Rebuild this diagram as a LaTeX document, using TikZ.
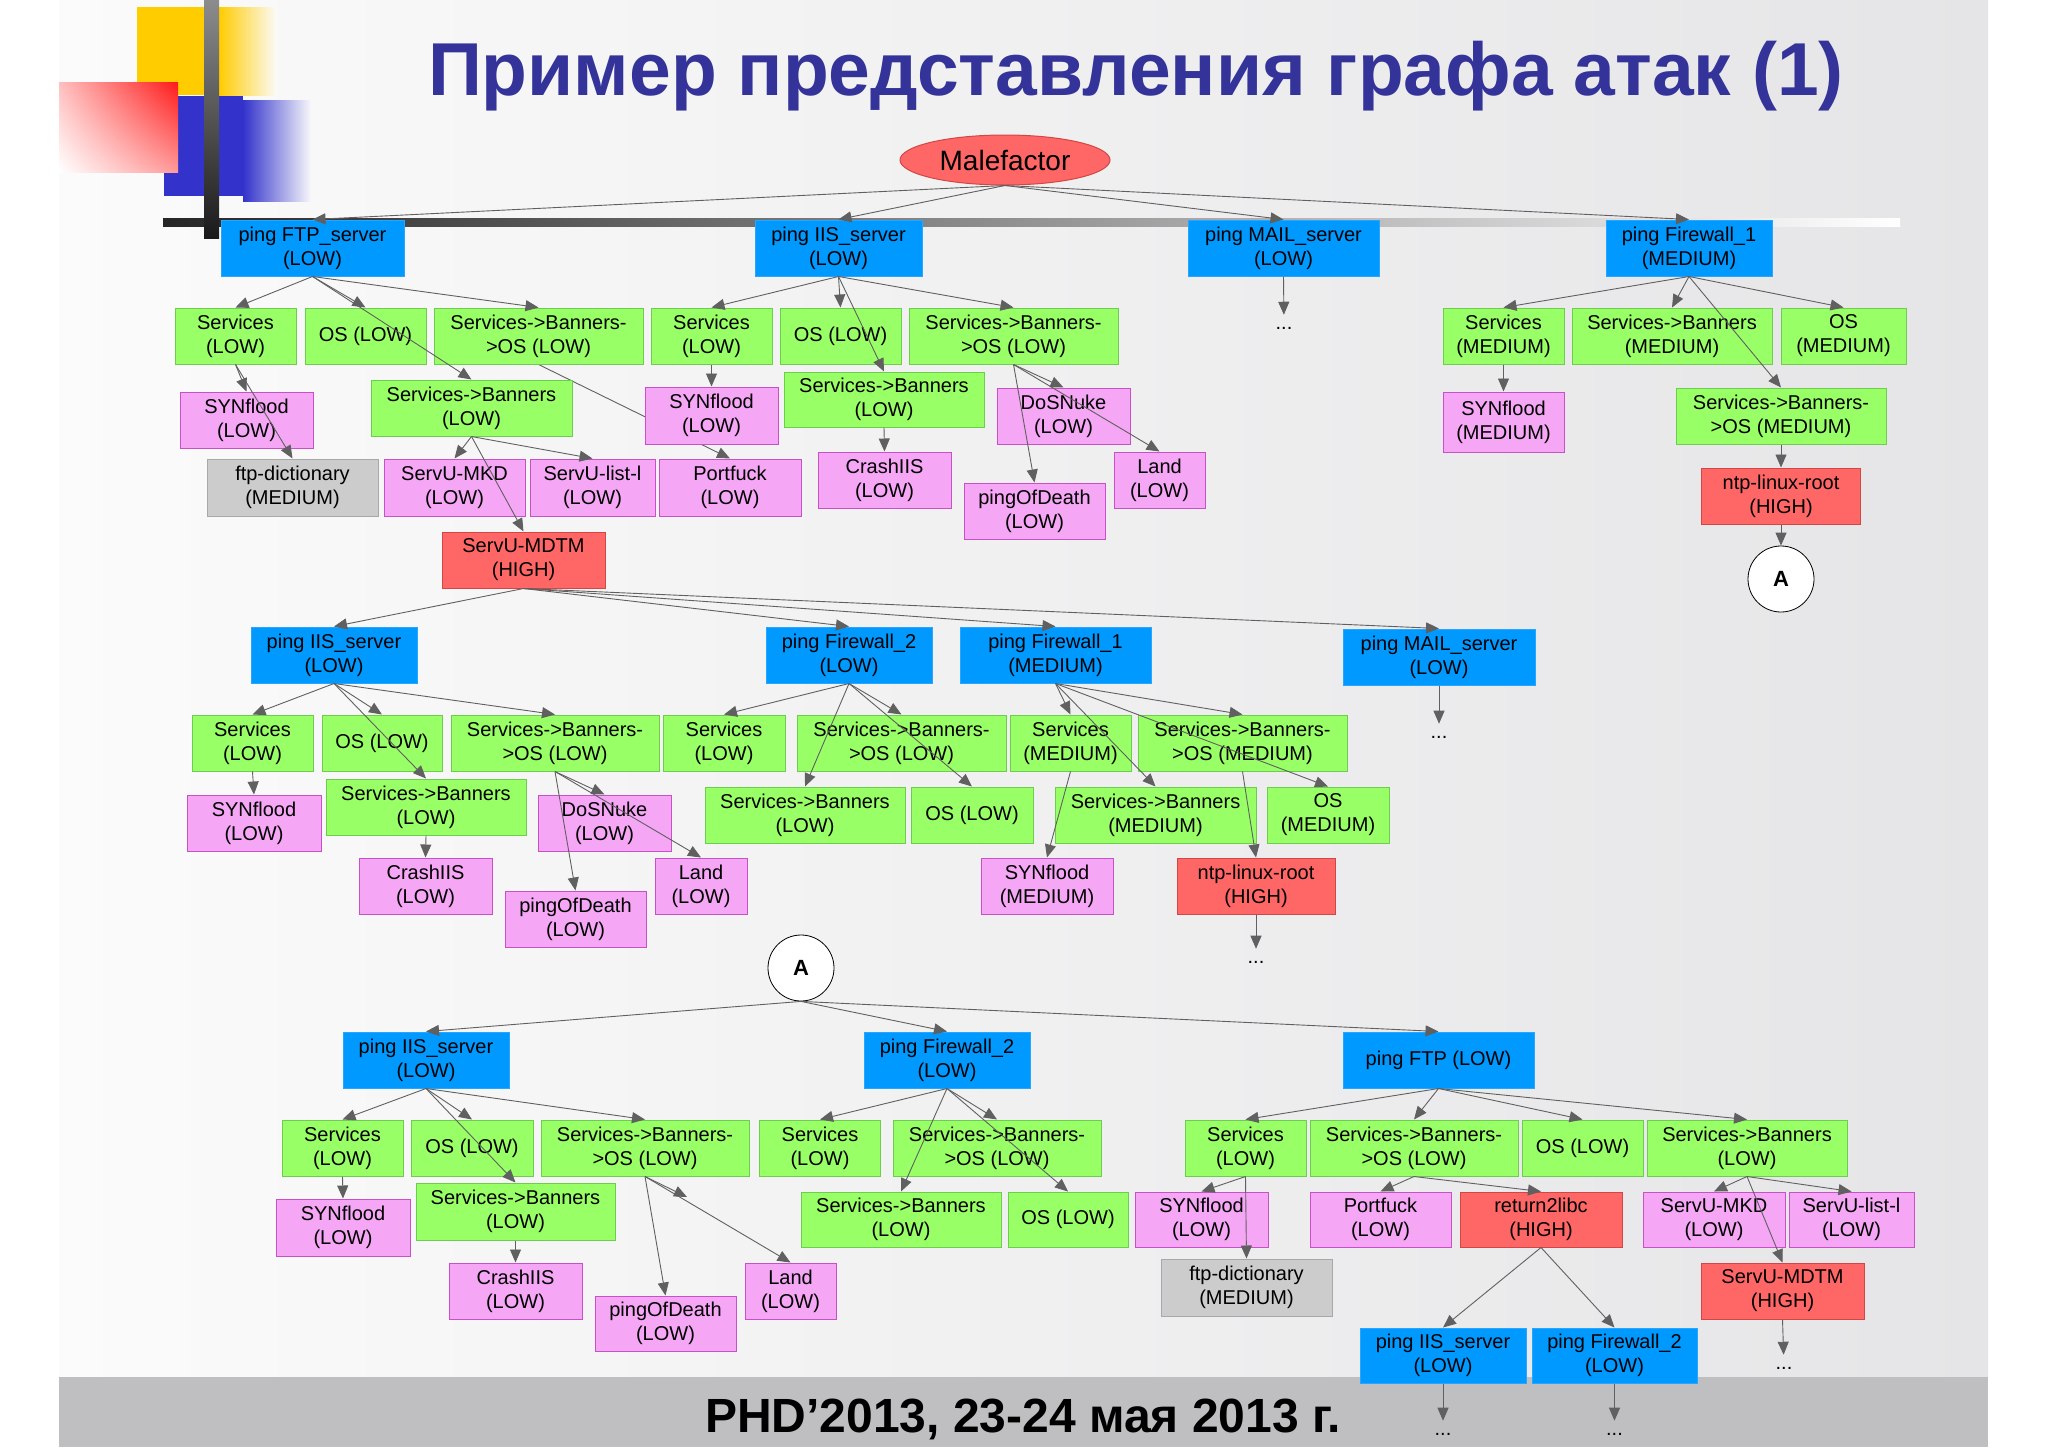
\documentclass[tikz,border=0pt]{standalone}
\usepackage{fontspec}
\setmainfont{Liberation Sans}
\usetikzlibrary{shapes.geometric,arrows.meta,backgrounds,shadings}
\definecolor{cBlue}{RGB}{0,153,255}
\definecolor{cBlueD}{RGB}{40,165,255}
\definecolor{cGreen}{RGB}{153,255,102}
\definecolor{cGreenD}{RGB}{110,205,80}
\definecolor{cPink}{RGB}{245,166,245}
\definecolor{cPinkD}{RGB}{200,80,200}
\definecolor{cRed}{RGB}{255,102,102}
\definecolor{cRedD}{RGB}{210,70,70}
\definecolor{cGrey}{RGB}{204,204,204}
\definecolor{cGreyD}{RGB}{168,168,168}
\definecolor{cArr}{RGB}{96,96,96}
\definecolor{cTitle}{RGB}{51,51,153}
\definecolor{cYel}{RGB}{255,204,0}
\definecolor{cDBlue}{RGB}{51,51,204}
\definecolor{cBand}{RGB}{191,191,193}
\definecolor{cSlideL}{RGB}{251,251,251}
\definecolor{cSlideR}{RGB}{229,229,231}
\pgfdeclarelayer{bg}
\pgfdeclarelayer{edges}
\pgfsetlayers{bg,edges,main}
\tikzset{
  bx/.style={rectangle, draw, line width=1pt, minimum height=56pt, inner sep=0pt,
    align=center, font=\fontsize{20}{24}\selectfont, text=black},
  blu/.style={bx, fill=cBlue, draw=cBlueD},
  grn/.style={bx, fill=cGreen, draw=cGreenD},
  pnk/.style={bx, fill=cPink, draw=cPinkD},
  hig/.style={bx, fill=cRed, draw=cRedD},
  gry/.style={bx, fill=cGrey, draw=cGreyD},
  arr/.style={draw=cArr, line width=0.9pt, -{Triangle[length=13pt,width=11pt]}},
  dts/.style={inner sep=0pt, font=\fontsize{20}{24}\selectfont},
  dotarr/.style={arr, shorten >=12pt},
  acirc/.style={circle, draw=black, line width=0.8pt, fill=white, minimum size=66pt,
    inner sep=0pt, font=\fontsize{22}{22}\selectfont\bfseries}
}
\begin{document}
\begin{tikzpicture}[x=1pt,y=-1pt]
\useasboundingbox (0,0) rectangle (2048,1448);
\begin{pgfonlayer}{bg}
  \fill[white] (0,0) rectangle (2048,1448);
  \shade[left color=cSlideL, right color=cSlideR] (59,0) rectangle (1988,1377);
  % decorations
  \fill[cYel] (137,7) rectangle (219,95);
  \shade[left color=cYel, right color=cSlideL] (219,7) rectangle (277,95);
  \fill[cDBlue] (164,96) rectangle (243,196);
  \shade[left color=cDBlue, right color=cSlideL] (243,100) rectangle (312,201);
  \shade[upper right=red!90!white, upper left=red!25!white, lower right=red!40!white, lower left=white]
    (59,82) rectangle (178,172);
  \shade[left color=black!85, right color=white] (163,218) rectangle (1900,226);
  \shade[top color=black!45, bottom color=black!90] (204,0) rectangle (219,238);
  % footer band
  \fill[cBand] (59,1377) rectangle (1988,1447);
  \node[font=\fontsize{48}{48}\selectfont\bfseries, anchor=base] (foot) at (1023,1432) {PHD’2013, 23-24 мая 2013 г.};
\end{pgfonlayer}

\node[font=\fontsize{75}{75}\selectfont\bfseries, text=cTitle, anchor=base] (title) at (1136,95) {Пример представления графа атак (1)};

% ===== TOP =====
\node[ellipse, draw=cRedD, line width=1pt, fill=cRed, minimum width=210pt, minimum height=50pt, inner sep=0pt,
  font=\fontsize{28}{28}\selectfont] (mal) at (1005,160) {Malefactor};

\node[blu, minimum width=183pt] (tftp) at (312.5,248) {ping FTP\_server\\(LOW)};
\node[blu, minimum width=167pt] (tiis) at (838.5,248) {ping IIS\_server\\(LOW)};
\node[blu, minimum width=191pt] (tmail) at (1283.5,248) {ping MAIL\_server\\(LOW)};
\node[blu, minimum width=166pt] (tfw1) at (1689,248) {ping Firewall\_1\\(MEDIUM)};

\node[grn, minimum width=121pt] (as) at (235.5,336) {Services\\(LOW)};
\node[grn, minimum width=121pt] (aos) at (365.5,336) {OS (LOW)};
\node[grn, minimum width=209pt] (asbo) at (538.5,336) {Services->Banners-\\>OS (LOW)};
\node[grn, minimum width=121pt] (bs) at (711.5,336) {Services\\(LOW)};
\node[grn, minimum width=121pt] (bos) at (840.5,336) {OS (LOW)};
\node[grn, minimum width=209pt] (bsbo) at (1013.5,336) {Services->Banners-\\>OS (LOW)};
\node[grn, minimum width=121pt] (cs) at (1503.5,336) {Services\\(MEDIUM)};
\node[grn, minimum width=200pt] (csb) at (1672,336) {Services->Banners\\(MEDIUM)};
\node[grn, minimum width=125pt] (cos) at (1843.5,336) {OS\\(MEDIUM)};

\node[pnk, minimum width=133pt] (asyn) at (246.5,420) {SYNflood\\(LOW)};
\node[grn, minimum width=201pt] (asb) at (471.5,408) {Services->Banners\\(LOW)};
\node[gry, minimum width=171pt, minimum height=57pt] (aftpd) at (292.5,487.5) {ftp-dictionary\\(MEDIUM)};
\node[pnk, minimum width=141pt, minimum height=57pt] (amkd) at (454.5,487.5) {ServU-MKD\\(LOW)};
\node[pnk, minimum width=125pt, minimum height=57pt] (alist) at (592.5,487.5) {ServU-list-l\\(LOW)};
\node[pnk, minimum width=142pt, minimum height=57pt] (aport) at (730,487.5) {Portfuck\\(LOW)};
\node[hig, minimum width=163pt] (amdtm) at (523.5,560) {ServU-MDTM\\(HIGH)};

\node[pnk, minimum width=133pt, minimum height=57pt] (bsyn) at (711.5,415.5) {SYNflood\\(LOW)};
\node[grn, minimum width=200pt, minimum height=55pt] (bsb) at (884,399.5) {Services->Banners\\(LOW)};
\node[pnk, minimum width=133pt] (bdos) at (1063.5,416) {DoSNuke\\(LOW)};
\node[pnk, minimum width=133pt] (bcrash) at (884.5,480) {CrashIIS\\(LOW)};
\node[pnk, minimum width=141pt] (bpod) at (1034.5,511) {pingOfDeath\\(LOW)};
\node[pnk, minimum width=91pt] (bland) at (1159.5,480) {Land\\(LOW)};
\node[dts] (mdots1) at (1284,328) {...};

\node[pnk, minimum width=121pt, minimum height=60pt] (csyn) at (1503.5,422) {SYNflood\\(MEDIUM)};
\node[grn, minimum width=210pt] (csbo) at (1781,416) {Services->Banners-\\>OS (MEDIUM)};
\node[hig, minimum width=159pt] (cntp) at (1781,496) {ntp-linux-root\\(HIGH)};
\node[acirc] (A1) at (1781,579) {A};

% ===== MIDDLE =====
\node[blu, minimum width=166pt] (miis) at (334,655) {ping IIS\_server\\(LOW)};
\node[blu, minimum width=166pt] (mfw2) at (849,655) {ping Firewall\_2\\(LOW)};
\node[blu, minimum width=191pt] (mfw1) at (1055.5,655) {ping Firewall\_1\\(MEDIUM)};
\node[blu, minimum width=192pt] (mmail) at (1439,657) {ping MAIL\_server\\(LOW)};

\node[grn, minimum width=121pt] (ms) at (252.5,743) {Services\\(LOW)};
\node[grn, minimum width=120pt] (mos) at (382,743) {OS (LOW)};
\node[grn, minimum width=208pt] (msbo) at (555,743) {Services->Banners-\\>OS (LOW)};
\node[grn, minimum width=122pt] (ns) at (724,743) {Services\\(LOW)};
\node[grn, minimum width=209pt] (nsbo) at (901.5,743) {Services->Banners-\\>OS (LOW)};
\node[grn, minimum width=121pt] (os) at (1070.5,743) {Services\\(MEDIUM)};
\node[grn, minimum width=209pt] (osbo) at (1242.5,743) {Services->Banners-\\>OS (MEDIUM)};

\node[pnk, minimum width=134pt] (msyn) at (254,823) {SYNflood\\(LOW)};
\node[grn, minimum width=200pt] (msb) at (426,807) {Services->Banners\\(LOW)};
\node[pnk, minimum width=133pt] (mdos) at (604.5,823) {DoSNuke\\(LOW)};
\node[pnk, minimum width=133pt] (mcrash) at (425.5,886) {CrashIIS\\(LOW)};
\node[pnk, minimum width=141pt] (mpod) at (575.5,919) {pingOfDeath\\(LOW)};
\node[pnk, minimum width=92pt] (mland) at (701,886) {Land\\(LOW)};
\node[grn, minimum width=200pt] (nsb) at (805,815) {Services->Banners\\(LOW)};
\node[grn, minimum width=122pt] (nos) at (972,815) {OS (LOW)};
\node[grn, minimum width=201pt] (osb) at (1155.5,815) {Services->Banners\\(MEDIUM)};
\node[grn, minimum width=122pt] (oos) at (1328,815) {OS\\(MEDIUM)};
\node[pnk, minimum width=132pt] (osyn) at (1047,886) {SYNflood\\(MEDIUM)};
\node[hig, minimum width=158pt] (ontp) at (1256,886) {ntp-linux-root\\(HIGH)};
\node[dts] (odots) at (1256,962) {...};
\node[dts] (mdots2) at (1439,737) {...};

\node[acirc] (A2) at (801,968) {A};

% ===== BOTTOM =====
\node[blu, minimum width=166pt] (piis) at (426,1060) {ping IIS\_server\\(LOW)};
\node[blu, minimum width=166pt] (pfw2) at (947,1060) {ping Firewall\_2\\(LOW)};
\node[blu, minimum width=191pt] (pftp) at (1438.5,1060) {ping FTP (LOW)};

\node[grn, minimum width=121pt] (ps) at (342.5,1148) {Services\\(LOW)};
\node[grn, minimum width=122pt] (pos) at (472,1148) {OS (LOW)};
\node[grn, minimum width=208pt] (psbo) at (645,1148) {Services->Banners-\\>OS (LOW)};
\node[grn, minimum width=121pt] (qs) at (820,1148) {Services\\(LOW)};
\node[grn, minimum width=208pt] (qsbo) at (997,1148) {Services->Banners-\\>OS (LOW)};
\node[grn, minimum width=121pt] (rs) at (1245.5,1148) {Services\\(LOW)};
\node[grn, minimum width=208pt] (rsbo) at (1414,1148) {Services->Banners-\\>OS (LOW)};
\node[grn, minimum width=121pt] (ros) at (1582.5,1148) {OS (LOW)};
\node[grn, minimum width=200pt] (rsb) at (1747,1148) {Services->Banners\\(LOW)};

\node[pnk, minimum width=134pt, minimum height=57pt] (psyn) at (343,1227.5) {SYNflood\\(LOW)};
\node[grn, minimum width=199pt, minimum height=57pt] (psb) at (515.5,1211.5) {Services->Banners\\(LOW)};
\node[pnk, minimum width=133pt] (pcrash) at (515.5,1291) {CrashIIS\\(LOW)};
\node[pnk, minimum width=141pt, minimum height=55pt] (ppod) at (665.5,1323.5) {pingOfDeath\\(LOW)};
\node[pnk, minimum width=91pt] (pland) at (790.5,1291) {Land\\(LOW)};
\coordinate (pstray) at (687,1197);

\node[grn, minimum width=200pt, minimum height=55pt] (qsb) at (901,1219.5) {Services->Banners\\(LOW)};
\node[grn, minimum width=120pt, minimum height=55pt] (qos) at (1068,1219.5) {OS (LOW)};

\node[pnk, minimum width=133pt, minimum height=55pt] (rsyn) at (1201.5,1219.5) {SYNflood\\(LOW)};
\node[gry, minimum width=171pt, minimum height=57pt] (rftpd) at (1246.5,1287.5) {ftp-dictionary\\(MEDIUM)};
\node[pnk, minimum width=141pt, minimum height=55pt] (rport) at (1380.5,1219.5) {Portfuck\\(LOW)};
\node[hig, minimum width=162pt, minimum height=55pt] (rr2l) at (1541,1219.5) {return2libc\\(HIGH)};
\node[pnk, minimum width=142pt, minimum height=55pt] (rmkd) at (1714,1219.5) {ServU-MKD\\(LOW)};
\node[pnk, minimum width=125pt, minimum height=55pt] (rlist) at (1851.5,1219.5) {ServU-list-l\\(LOW)};
\node[hig, minimum width=163pt] (rmdtm) at (1782.5,1291) {ServU-MDTM\\(HIGH)};
\node[dts] (rdots) at (1784,1368) {...};

\node[blu, minimum width=166pt, minimum height=55pt] (siis) at (1443,1355.5) {ping IIS\_server\\(LOW)};
\node[blu, minimum width=165pt, minimum height=55pt] (sfw2) at (1614.5,1355.5) {ping Firewall\_2\\(LOW)};
\node[dts] (sdots1) at (1443,1434) {...};
\node[dts] (sdots2) at (1614.5,1434) {...};

% ===== EDGES =====
\begin{pgfonlayer}{edges}
  \draw[arr] (asbo.south) -- (aport.north);
\end{pgfonlayer}

\foreach \s/\t in {
  mal/tftp, mal/tiis, mal/tmail, mal/tfw1,
  tftp/as, tftp/aos, tftp/asbo, tftp/asb,
  as/asyn, as/aftpd,
  asb/amkd, asb/alist, asb/amdtm,
  tiis/bs, tiis/bos, tiis/bsbo, tiis/bsb,
  bs/bsyn, bsb/bcrash,
  bsbo/bdos, bsbo/bpod, bsbo/bland,
  tfw1/cs, tfw1/csb, tfw1/cos, tfw1/csbo,
  cs/csyn, csbo/cntp, cntp/A1,
  amdtm/miis, amdtm/mfw2, amdtm/mfw1, amdtm/mmail,
  miis/ms, miis/mos, miis/msbo, miis/msb,
  ms/msyn, msb/mcrash,
  msbo/mdos, msbo/mpod, msbo/mland,
  mfw2/ns, mfw2/nsbo, mfw2/nsb, mfw2/nos,
  mfw1/os, mfw1/osbo, mfw1/osb, mfw1/oos,
  os/osyn, osbo/ontp,
  A2/piis, A2/pfw2, A2/pftp,
  piis/ps, piis/pos, piis/psbo, piis/psb,
  ps/psyn, psb/pcrash,
  psbo/ppod, psbo/pland,
  pfw2/qs, pfw2/qsbo, pfw2/qsb, pfw2/qos,
  pftp/rs, pftp/rsbo, pftp/ros, pftp/rsb,
  rs/rsyn, rs/rftpd,
  rsbo/rport, rsbo/rr2l,
  rsb/rmkd, rsb/rlist, rsb/rmdtm,
  rr2l/siis, rr2l/sfw2}
  \draw[arr] (\s.south) -- (\t.north);

\draw[arr] (psbo.south) -- (pstray);

\foreach \s/\t in {tmail/mdots1, ontp/odots, mmail/mdots2, rmdtm/rdots, siis/sdots1, sfw2/sdots2}
  \draw[dotarr] (\s.south) -- (\t.north);
\end{tikzpicture}
\end{document}
